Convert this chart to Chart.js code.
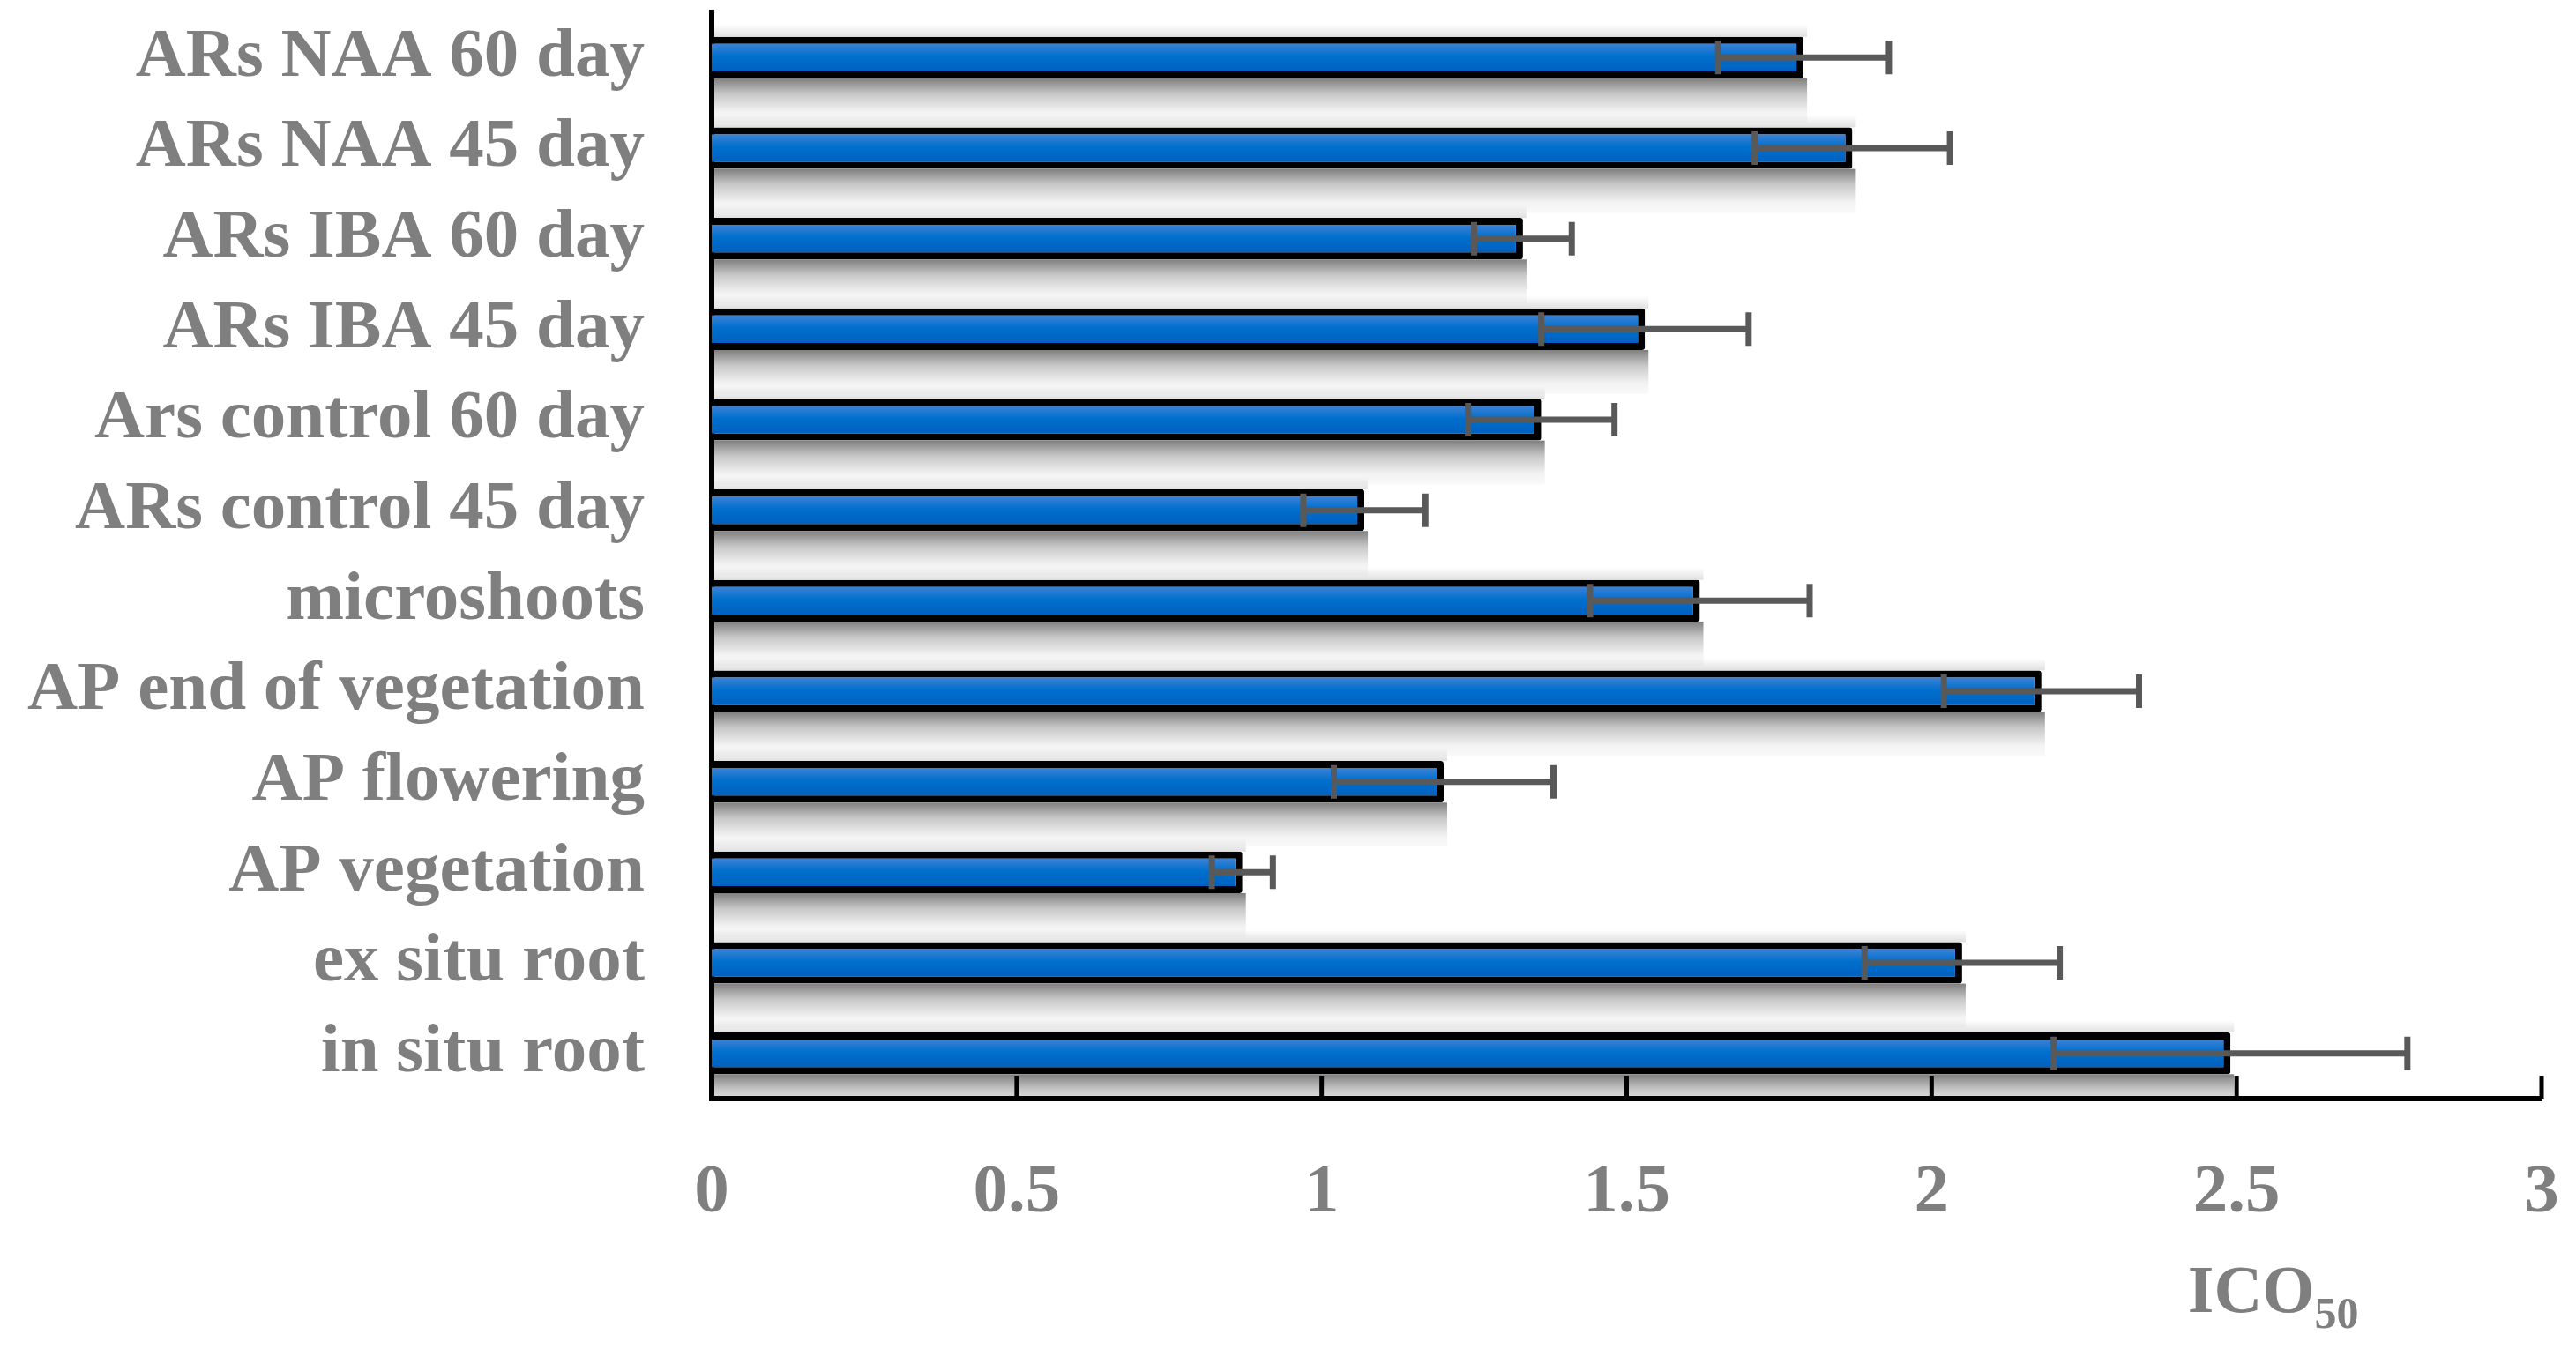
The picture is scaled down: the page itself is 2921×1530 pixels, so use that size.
<!DOCTYPE html>
<html>
<head>
<meta charset="utf-8">
<script src="https://cdn.jsdelivr.net/npm/chart.js@4.4.1/dist/chart.umd.min.js"></script>
<style>
  html, body { margin: 0; padding: 0; background: #fff; }
  #wrap { width: 2921px; height: 1530px; position: relative; }
</style>
</head>
<body>
<div id="wrap"><canvas id="ic50Chart"></canvas></div>
<script>
// top to bottom, as on the figure
const categories = [
    "ARs NAA 60 day", "ARs NAA 45 day", "ARs IBA 60 day", "ARs IBA 45 day",
    "Ars control 60 day", "ARs control 45 day", "microshoots", "AP end of vegetation",
    "AP flowering", "AP vegetation", "ex situ root", "in situ root"
];
const ic50Values = [1.79, 1.87, 1.33, 1.53, 1.36, 1.07, 1.62, 2.18, 1.20, 0.87, 2.05, 2.49];
const ic50Errors = [0.14, 0.16, 0.08, 0.17, 0.12, 0.10, 0.18, 0.16, 0.18, 0.05, 0.16, 0.29];
const xTicks = [0, 0.5, 1, 1.5, 2, 2.5, 3];

const labelFont = { family: "'Liberation Serif', 'Times New Roman', serif", size: 79, weight: "bold" };
const labelColor = "#7f7f7f";

function barGradient(context) {
    const chart = context.chart;
    const yScale = chart.scales.y;
    if (!chart.chartArea || !yScale) return "#0070cc";
    const yc = yScale.getPixelForValue(context.dataIndex);
    const g = chart.ctx.createLinearGradient(0, yc - 16, 0, yc + 16);
    g.addColorStop(0, "#3e82d6");
    g.addColorStop(0.45, "#0070cd");
    g.addColorStop(1, "#0060bf");
    return g;
}

// soft shadow band under (and faintly over) each bar, drawn as gradients
const barShadow = {
    id: "barShadow",
    beforeDatasetsDraw(chart) {
        const ctx = chart.ctx;
        const area = chart.chartArea;
        const meta = chart.getDatasetMeta(0);
        ctx.save();
        ctx.beginPath();
        ctx.rect(area.left, area.top, area.right - area.left, area.bottom - area.top);
        ctx.clip();
        meta.data.forEach(bar => {
            const top = bar.y - bar.height / 2;
            const bottom = bar.y + bar.height / 2;
            const left = bar.base;
            const width = bar.x - bar.base + 4;

            const below = ctx.createLinearGradient(0, bottom, 0, bottom + 50);
            below.addColorStop(0, "rgba(0,0,0,0.5)");
            below.addColorStop(0.35, "rgba(0,0,0,0.22)");
            below.addColorStop(0.75, "rgba(0,0,0,0.05)");
            below.addColorStop(1, "rgba(0,0,0,0.02)");
            ctx.fillStyle = below;
            ctx.fillRect(left, bottom, width, 50);

            const above = ctx.createLinearGradient(0, top - 14, 0, top);
            above.addColorStop(0, "rgba(0,0,0,0)");
            above.addColorStop(1, "rgba(0,0,0,0.12)");
            ctx.fillStyle = above;
            ctx.fillRect(left, top - 14, width, 14);
        });
        ctx.restore();
    }
};

// error bars, inward x ticks and the ICO50 title
const extras = {
    id: "extras",
    afterDraw(chart) {
        const ctx = chart.ctx;
        const x = chart.scales.x;
        const meta = chart.getDatasetMeta(0);

        ctx.save();
        ctx.strokeStyle = "#595959";
        ctx.lineWidth = 7;
        meta.data.forEach((bar, i) => {
            const lo = x.getPixelForValue(ic50Values[i] - ic50Errors[i]);
            const hi = x.getPixelForValue(ic50Values[i] + ic50Errors[i]);
            const y = bar.y;
            ctx.beginPath();
            ctx.moveTo(lo, y); ctx.lineTo(hi, y);
            ctx.moveTo(lo, y - 19); ctx.lineTo(lo, y + 19);
            ctx.moveTo(hi, y - 19); ctx.lineTo(hi, y + 19);
            ctx.stroke();
        });

        ctx.strokeStyle = "#000";
        ctx.lineWidth = 5;
        xTicks.forEach(t => {
            if (t === 0) return;
            const px = x.getPixelForValue(t);
            ctx.beginPath();
            ctx.moveTo(px, x.top);
            ctx.lineTo(px, x.top - 26);
            ctx.stroke();
        });

        ctx.fillStyle = labelColor;
        ctx.textBaseline = "alphabetic";
        ctx.textAlign = "left";
        ctx.font = "bold 76px 'Liberation Serif', serif";
        const tx = x.getPixelForValue(2.42);
        const ty = x.bottom - 42;
        ctx.fillText("ICO", tx, ty);
        const w = ctx.measureText("ICO").width;
        ctx.font = "bold 50px 'Liberation Serif', serif";
        ctx.fillText("50", tx + w, ty + 18);
        ctx.restore();
    }
};

new Chart(document.getElementById("ic50Chart"), {
    type: "bar",
    data: {
        labels: categories,
        datasets: [{
            data: ic50Values,
            backgroundColor: barGradient,
            borderColor: "#000",
            borderWidth: 8,
            borderRadius: 3,
            borderSkipped: "start",
            barPercentage: 0.92,
            categoryPercentage: 0.5
        }]
    },
    options: {
        indexAxis: "y",
        responsive: true,
        maintainAspectRatio: false,
        animation: false,
        layout: { padding: { top: 14, right: 39, left: 0, bottom: 0 } },
        plugins: {
            legend: { display: false },
            tooltip: { enabled: false }
        },
        scales: {
            x: {
                min: 0,
                max: 3,
                afterBuildTicks(scale) { scale.ticks = xTicks.map(v => ({ value: v })); },
                afterFit(scale) {
                    scale.height = 284;
                    scale.paddingLeft = 0;
                    scale.paddingRight = 0;
                },
                grid: { display: false, drawTicks: false },
                border: { display: true, color: "#000", width: 6 },
                ticks: {
                    padding: 60,
                    color: labelColor,
                    font: labelFont,
                    maxRotation: 0,
                    callback: v => String(v)
                }
            },
            y: {
                afterFit(scale) {
                    scale.width = 807;
                    scale.paddingTop = 0;
                    scale.paddingBottom = 0;
                },
                grid: { display: false, drawTicks: false },
                border: { display: true, color: "#000", width: 6 },
                ticks: {
                    autoSkip: false,
                    padding: 76,
                    color: labelColor,
                    font: labelFont
                }
            }
        }
    },
    plugins: [barShadow, extras]
});
</script>
</body>
</html>
